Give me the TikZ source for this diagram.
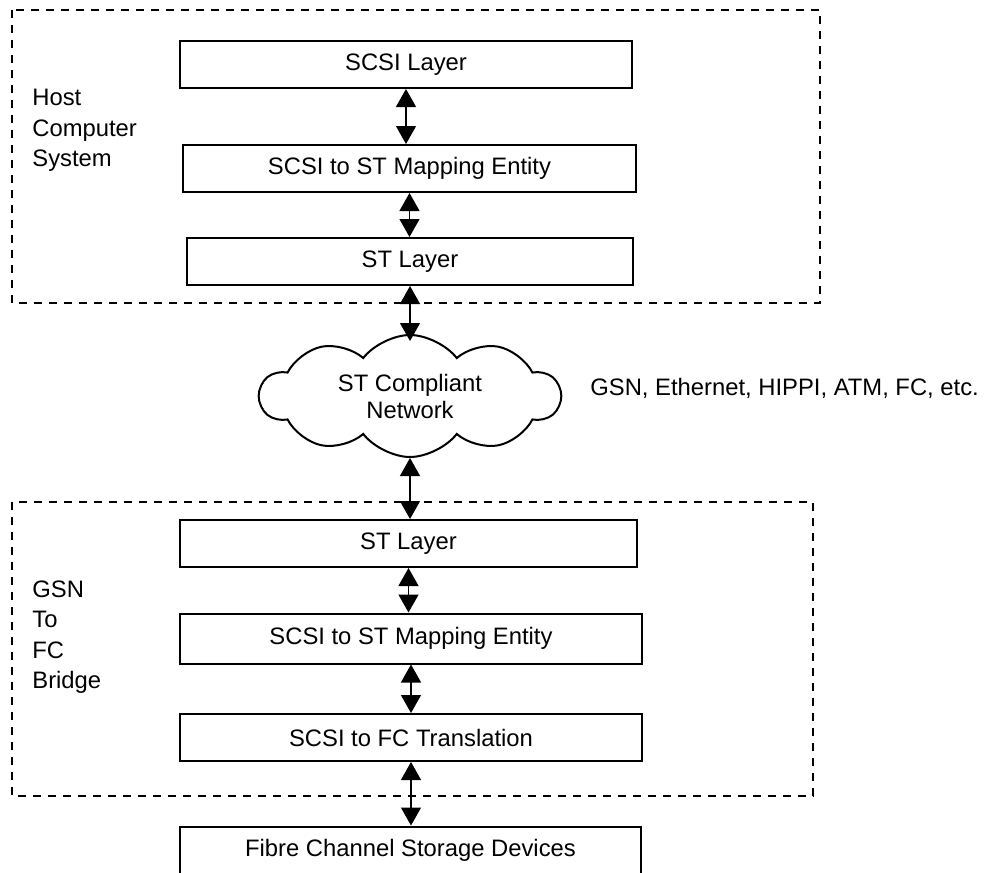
\documentclass[tikz,border=0pt]{standalone}
\usepackage{fontspec}
\setmainfont{Liberation Sans}
\usetikzlibrary{arrows.meta,shapes.symbols}

\begin{document}
\begin{tikzpicture}[
  x=0.5pt, y=-0.5pt,
  every node/.style={font=\fontsize{11.9}{15.25}\selectfont, inner sep=0pt},
  layer/.style={draw, line width=1pt, minimum height=23.5pt},
  group/.style={draw, line width=1pt, dash pattern=on 4pt off 3.5pt},
  link/.style={line width=0.65pt, {Triangle[width=10pt,length=9pt]}-{Triangle[width=10pt,length=9pt]}}
]
  \useasboundingbox (0,0) rectangle (987,873);

  % host computer
  \draw[group] (12,10) rectangle (820,303);
  \node[anchor=north west, align=left] (host) at (32,89) {Host\\Computer\\System};
  \node[layer, minimum width=226pt] (hscsi) at (406,64.5) {SCSI Layer};
  \node[layer, minimum width=226.5pt] (hmap) at (409.5,168.5) {SCSI to ST Mapping Entity};
  \node[layer, minimum width=223pt] (hst) at (410,261.5) {ST Layer};

  % network
  \node[cloud, draw, line width=1pt, cloud puffs=10, cloud puff arc=105, cloud ignores aspect,
        minimum width=150pt, minimum height=61pt, align=center,
        font=\fontsize{11.9}{13.5}\selectfont] (net) at (410,396) {ST Compliant\\Network};
  \coordinate (nettop) at (410,341);
  \coordinate (netbot) at (410,458);
  \node[anchor=base west] (nets) at (590,395) {GSN, Ethernet, HIPPI, ATM, FC, etc.};

  % bridge
  \draw[group] (12,502) rectangle (813,796);
  \node[anchor=north west, align=left] (bridge) at (32,580) {GSN\\To\\FC\\Bridge};
  \node[layer, minimum width=228.5pt] (bst) at (408.5,543.5) {ST Layer};
  \node[layer, minimum width=231pt, minimum height=25pt] (bmap) at (411,638.5) {SCSI to ST Mapping Entity};
  \node[layer, minimum width=231pt] (btrans) at (411,737.5) {SCSI to FC Translation};

  % storage
  \node[layer, minimum width=230.5pt] (fc) at (410.5,850) {Fibre Channel Storage Devices};

  \draw[link] (hscsi.south) -- (hscsi.south |- hmap.north);
  \draw[link] (hmap.south) -- (hmap.south |- hst.north);
  \draw[link] (hst.south) -- (nettop);
  \draw[link] (netbot) -- (netbot |- bst.north);
  \draw[link] (bst.south) -- (bst.south |- bmap.north);
  \draw[link] (bmap.south) -- (bmap.south |- btrans.north);
  \draw[link] (btrans.south) -- (btrans.south |- fc.north);
\end{tikzpicture}
\end{document}
